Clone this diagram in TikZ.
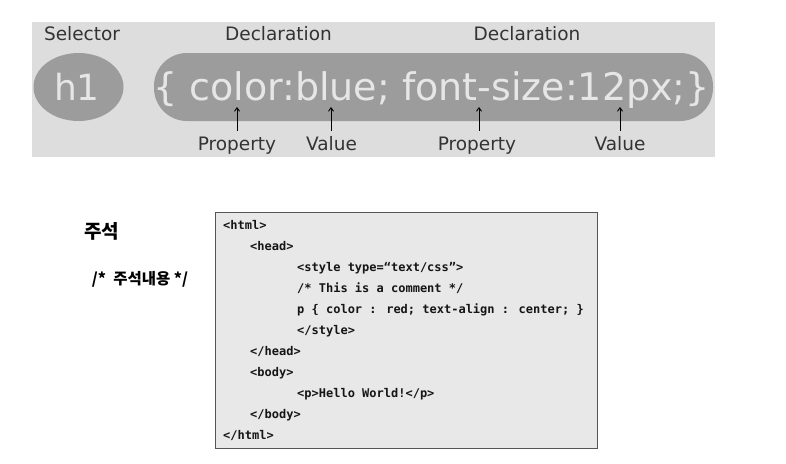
\documentclass[tikz,border=0pt]{standalone}
\usepackage{fontspec}
\setmainfont{DejaVu Sans}
\newfontfamily\krfont{Noto Sans CJK KR}
\newfontfamily\codefont{DejaVu Sans Mono}
\usetikzlibrary{arrows.meta,shapes.geometric}
\definecolor{panelbg}{HTML}{DDDDDD}
\definecolor{shapegray}{HTML}{9C9C9C}
\definecolor{shapetext}{HTML}{E6E6E6}
\definecolor{labeltext}{HTML}{333333}
\definecolor{codebg}{HTML}{E8E8E8}
\definecolor{codeborder}{HTML}{555555}
\definecolor{codetext}{HTML}{151515}
\tikzset{
  toplabel/.style={anchor=base, inner sep=0pt, text=labeltext, font=\fontsize{18.5}{20}\selectfont},
  bigtext/.style={anchor=base, inner sep=0pt, text=shapetext, font=\fontsize{38}{40}\selectfont},
  partarrow/.style={draw=black, line width=0.9pt, -{Straight Barb[length=3.5pt,width=5pt]}},
  codeline/.style={anchor=base west, inner sep=0pt, text=codetext, font=\codefont\bfseries\fontsize{12}{14}\selectfont},
}
\begin{document}
\begin{tikzpicture}[x=1pt,y=-1pt]
\useasboundingbox (0,0) rectangle (786,463);
\fill[white] (0,0) rectangle (786,463);
% top panel
\fill[panelbg] (32,22) rectangle (715,157);
\node[ellipse, fill=shapegray, minimum width=90pt, minimum height=68pt, inner sep=0pt] (sel) at (78.5,87) {};
\node[draw=none, fill=shapegray, rounded corners=33pt, minimum width=559pt, minimum height=68pt, inner sep=0pt] (decl) at (433.5,87) {};
\node[bigtext, font=\fontsize{36}{38}\selectfont] (h1) at (77,100) {h1};
\node[bigtext] (code) at (431.5,100) {\{ color:blue; font-size:12px;\}};
\node[toplabel] (lsel) at (82,40) {Selector};
\node[toplabel] (ldecl1) at (278.5,40) {Declaration};
\node[toplabel] (ldecl2) at (527,40) {Declaration};
\node[toplabel] (prop1) at (237,150) {Property};
\node[toplabel] (val1) at (331.5,150) {Value};
\node[toplabel] (prop2) at (477,150) {Property};
\node[toplabel] (val2) at (620,150) {Value};
\coordinate (a1s) at (237,131); \coordinate (a1e) at (237,107);
\coordinate (a2s) at (331,131); \coordinate (a2e) at (331,107);
\coordinate (a3s) at (479,131); \coordinate (a3e) at (479,107);
\coordinate (a4s) at (620,131); \coordinate (a4e) at (620,107);
\draw[partarrow] (a1s) -- (a1e);
\draw[partarrow] (a2s) -- (a2e);
\draw[partarrow] (a3s) -- (a3e);
\draw[partarrow] (a4s) -- (a4e);
% comment section
\node[anchor=center, inner sep=0pt, font=\krfont\bfseries\fontsize{19}{21}\selectfont] (jus) at (101.5,231) {주석};
\node[anchor=center, inner sep=0pt, font=\krfont\bfseries\fontsize{15.5}{17}\selectfont] (jusex) at (140,279) {/*\ \ 주석내용 */};
\draw[fill=codebg, draw=codeborder, line width=0.9pt] (215,212) rectangle (597,448);
\node[codeline] (c1) at (223,229) {<html>};
\node[codeline] (c2) at (250,250) {<head>};
\node[codeline] (c3) at (297,271) {<style type=“text/css”>};
\node[codeline] (c4) at (297,292) {/* This is a comment */};
\node[codeline] (c5) at (297,313) {p \{ color : red; text-align : center; \}};
\node[codeline] (c6) at (297,334) {</style>};
\node[codeline] (c7) at (250,355) {</head>};
\node[codeline] (c8) at (250,376) {<body>};
\node[codeline] (c9) at (297,397) {<p>Hello World!</p>};
\node[codeline] (c10) at (250,418) {</body>};
\node[codeline] (c11) at (223,439) {</html>};
\end{tikzpicture}
\end{document}
